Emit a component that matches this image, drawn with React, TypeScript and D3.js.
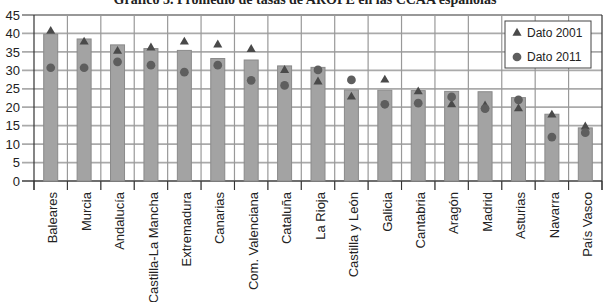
import React from "react";
import * as d3 from "d3";

const categories = [
  "Baleares", "Murcia", "Andalucía", "Castilla-La Mancha", "Extremadura", "Canarias",
  "Com. Valenciana", "Cataluña", "La Rioja", "Castilla y León", "Galicia", "Cantabria",
  "Aragón", "Madrid", "Asturias", "Navarra", "País Vasco",
];
const promedio = [39.8, 38.5, 36.9, 35.9, 35.4, 33.2, 32.8, 31.2, 30.8, 24.7, 24.6, 24.5, 24.3, 24.2, 22.6, 18.1, 14.4];
const dato2001 = [40.6, 37.7, 35.2, 36.1, 37.7, 36.9, 35.7, 30.0, 26.9, 22.8, 27.4, 24.2, 20.7, 20.4, 19.6, 17.9, 14.7];
const dato2011 = [30.7, 30.7, 32.3, 31.4, 29.5, 31.4, 27.3, 25.9, 30.1, 27.4, 20.8, 21.1, 22.8, 19.6, 22.0, 11.9, 13.1];
const yTicks = [0, 5, 10, 15, 20, 25, 30, 35, 40, 45];
const seriesNames = ["Dato 2001", "Dato 2011"];
const title = "Gráfico 5.     Promedio de tasas de AROPE en las CCAA españolas";

const W = 611, H = 302;
const M = { left: 34, right: 9, top: 15, bottom: 121 };
const SANS = "'Liberation Sans', Arial, sans-serif";

export default function App() {
  const x = d3.scaleBand<string>().domain(categories).range([M.left, W - M.right]).padding(0);
  const y = d3.scaleLinear().domain([0, 45]).range([H - M.bottom, M.top]);
  const bw = 14;
  const tri = d3.symbol().type(d3.symbolTriangle).size(36)();
  const circ = d3.symbol().type(d3.symbolCircle).size(60)();
  const x0 = M.left, x1 = W - M.right, y0 = y(0), y1 = y(45);
  const bounds = categories.map((c) => x(c)!).concat([x1]);

  return (
    <svg width={W} height={H} style={{ position: "absolute", left: 0, top: 0, background: "#fff" }}>
      <text x={305} y={4} textAnchor="middle" fontFamily="'Liberation Serif', 'Times New Roman', serif" fontWeight="bold" fontSize={14} fill="#222">{title}</text>
      {yTicks.map((t) => (
        <g key={t}>
          <line x1={x0 - 12} x2={x1} y1={y(t)} y2={y(t)} stroke={t === 45 ? "#333" : "#aaa"} strokeWidth={t === 45 ? 1.2 : 1.8} />
          <text x={20} y={y(t)} dy="0.36em" textAnchor="end" fontFamily={SANS} fontSize={13} fill="#222">{t}</text>
        </g>
      ))}
      {bounds.map((b, i) => (
        <line key={i} x1={b} x2={b} y1={y1} y2={y0 + 9} stroke={i === 0 || i === bounds.length - 1 ? "#333" : "#999"} strokeWidth={1.2} />
      ))}
      {bounds.map((b, i) => (
        <line key={"t" + i} x1={b} x2={b} y1={y0} y2={y0 + 9} stroke="#333" strokeWidth={1} />
      ))}
      <line x1={x0 - 12} x2={x1} y1={y0} y2={y0} stroke="#333" strokeWidth={1.2} />
      {categories.map((c, i) => (
        <rect key={c} x={x(c)! + x.bandwidth() / 2 - bw / 2} y={y(promedio[i])} width={bw} height={y0 - y(promedio[i])} fill="#a3a3a3" stroke="#8a8a8a" strokeWidth={1} />
      ))}
      {categories.map((c, i) => (
        <g key={"m" + c}>
          <path d={tri!} transform={`translate(${x(c)! + x.bandwidth() / 2},${y(dato2001[i])})`} fill="#4a4a4a" />
          <path d={circ!} transform={`translate(${x(c)! + x.bandwidth() / 2},${y(dato2011[i])})`} fill="#5e5e5e" />
        </g>
      ))}
      <rect x={505} y={21} width={86} height={47} fill="#fff" stroke="#444" strokeWidth={1} />
      <path d={tri!} transform="translate(517,33)" fill="#4a4a4a" />
      <text x={527} y={33} dy="0.36em" fontFamily={SANS} fontSize={12} fill="#222">{seriesNames[0]}</text>
      <path d={circ!} transform="translate(517,57)" fill="#5e5e5e" />
      <text x={527} y={57} dy="0.36em" fontFamily={SANS} fontSize={12} fill="#222">{seriesNames[1]}</text>
      {categories.map((c) => {
        const cx = x(c)! + x.bandwidth() / 2 + 2;
        return (
          <text key={"l" + c} transform={`translate(${cx},${y0 + 11}) rotate(-90)`} textAnchor="end" dy="0.36em" fontFamily={SANS} fontSize={13} fill="#222">{c}</text>
        );
      })}
    </svg>
  );
}
